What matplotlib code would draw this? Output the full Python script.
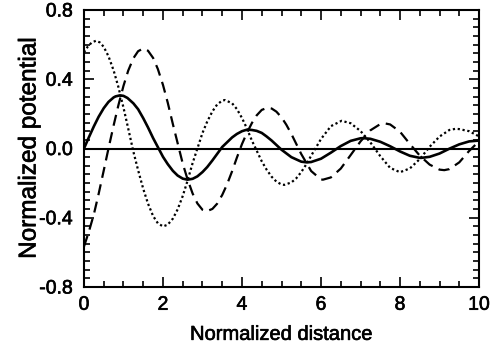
import matplotlib
matplotlib.use("Agg")
import matplotlib.pyplot as plt
import matplotlib.patheffects as pe
from matplotlib.ticker import MultipleLocator, FixedLocator

plt.rcParams['font.family'] = ['Liberation Sans', 'DejaVu Sans']

# solid curve
x_solid = [0, 0.12, 0.25, 0.37, 0.5, 0.62, 0.75, 0.8, 0.91, 1.0, 1.1, 1.25, 1.37, 1.5, 1.62, 1.75,
           2.0, 2.12, 2.25, 2.37, 2.5, 2.62, 2.75, 2.87, 3.0, 3.12, 3.25, 3.5, 3.75, 3.87, 4.0,
           4.1, 4.2, 4.25, 4.37, 4.5, 4.62, 4.75, 5.0, 5.25, 5.5, 5.64, 5.75, 6.0,
           6.25, 6.5, 6.75, 7.0, 7.07, 7.25, 7.5, 7.75, 8.0, 8.25, 8.5, 8.54, 8.75, 9.0,
           9.25, 9.5, 9.75, 10.0]
y_solid = [0.0, 0.063, 0.128, 0.183, 0.233, 0.269, 0.295, 0.301, 0.307, 0.304, 0.292, 0.261, 0.227, 0.175, 0.122, 0.06,
           -0.048, -0.09, -0.129, -0.156, -0.174, -0.18, -0.175, -0.161, -0.136, -0.107, -0.069, 0.009, 0.064, 0.084, 0.100,
           0.107, 0.108, 0.107, 0.102, 0.090, 0.070, 0.046, -0.007, -0.050, -0.076, -0.08, -0.078, -0.059,
           -0.024, 0.014, 0.044, 0.059, 0.06, 0.056, 0.039, 0.013, -0.017, -0.042, -0.054, -0.054, -0.048, -0.029,
           -0.001, 0.024, 0.041, 0.046]

# dashed curve
x_dash = [0, 0.12, 0.25, 0.37, 0.5, 0.62, 0.75, 0.87, 1.0, 1.12, 1.25, 1.37, 1.5, 1.62, 1.75, 1.87,
          2.0, 2.12, 2.25, 2.5, 2.62, 2.75, 2.87, 3.0, 3.1, 3.25, 3.37, 3.5, 3.62, 3.75, 3.87,
          4.0, 4.12, 4.25, 4.37, 4.5, 4.65, 4.75, 4.87, 5.0, 5.12, 5.25, 5.5, 5.75, 6.0, 6.05,
          6.25, 6.5, 6.75, 7.0, 7.25, 7.5, 7.62, 7.75, 8.0, 8.25, 8.5, 8.75, 9.0, 9.12, 9.25,
          9.5, 9.75, 10.0]
y_dash = [-0.566, -0.483, -0.38, -0.263, -0.127, 0.0, 0.133, 0.249, 0.362, 0.45, 0.521, 0.562, 0.578, 0.565, 0.523, 0.459,
          0.367, 0.265, 0.141, -0.087, -0.177, -0.26, -0.317, -0.354, -0.363, -0.349, -0.319, -0.268, -0.208, -0.131, -0.053,
          0.026, 0.088, 0.147, 0.191, 0.223, 0.236, 0.231, 0.213, 0.18, 0.138, 0.084, -0.032, -0.13, -0.179, -0.18,
          -0.167, -0.116, -0.038, 0.041, 0.105, 0.141, 0.145, 0.139, 0.097, 0.026, -0.041, -0.093, -0.122, -0.125, -0.119,
          -0.08, -0.014, 0.042]

# dotted curve
x_dot = [0, 0.1, 0.2, 0.3, 0.4, 0.5, 0.62, 0.75, 0.87, 1.0, 1.12, 1.25, 1.37, 1.5, 1.62, 1.75,
         1.87, 2.0, 2.12, 2.25, 2.37, 2.5, 2.62, 2.75, 3.0, 3.12, 3.25, 3.37, 3.5, 3.57, 3.75,
         3.87, 4.0, 4.12, 4.25, 4.5, 4.62, 4.75, 4.87, 5.0, 5.07, 5.25, 5.37, 5.5, 5.62, 5.75,
         6.0, 6.25, 6.52, 6.75, 7.0, 7.25, 7.5, 7.75, 8.0, 8.25, 8.5, 8.75, 9.0, 9.25, 9.41,
         9.5, 9.75, 10.0]
y_dot = [0.556, 0.59, 0.613, 0.622, 0.613, 0.587, 0.533, 0.451, 0.356, 0.236, 0.115, -0.018, -0.125, -0.233, -0.318, -0.39,
         -0.432, -0.45, -0.44, -0.405, -0.352, -0.274, -0.187, -0.084, 0.09, 0.156, 0.214, 0.254, 0.277, 0.28, 0.261,
         0.228, 0.176, 0.118, 0.046, -0.074, -0.121, -0.163, -0.191, -0.208, -0.21, -0.196, -0.173, -0.136, -0.094, -0.042,
         0.055, 0.129, 0.16, 0.146, 0.101, 0.035, -0.044, -0.112, -0.137, -0.115, -0.061, 0.01, 0.069, 0.107, 0.114,
         0.112, 0.10, 0.07]

fig = plt.figure(figsize=(4.9, 3.51), dpi=100)
ax = fig.add_axes([0.1714, 0.1823, 0.8062, 0.7892])

ax.axhline(0, color='black', lw=1.5)
ax.plot(x_solid, y_solid, color='black', lw=1.9, ls='-')
ax.plot(x_dash, y_dash, color='black', lw=1.6, ls=(0, (5, 3)))
ax.plot(x_dot, y_dot, color='black', lw=1.6, ls=(0, (1, 1.2)))

ax.set_xlim(0, 10)
ax.set_ylim(-0.8, 0.8)
ax.xaxis.set_major_locator(MultipleLocator(2))
ax.xaxis.set_minor_locator(MultipleLocator(0.5))
ax.set_yticks([-0.8, -0.4, 0.0, 0.4, 0.8])
ax.set_yticklabels(['-0.8', '-0.4', '0.0', '0.4', '0.8'])
ax.yaxis.set_minor_locator(FixedLocator([i * 0.05 - 0.8 for i in range(33)]))

ax.tick_params(which='both', direction='in', top=True, right=True, width=1.2, labelsize=14)
ax.tick_params(which='major', length=7)
ax.tick_params(which='minor', length=4)
ax.tick_params(axis='x', which='major', pad=7)
ax.tick_params(axis='y', which='major', pad=8)
for s in ax.spines.values():
    s.set_linewidth(1.5)

ax.set_xlabel('Normalized distance', fontsize=14.5, labelpad=8)
ax.set_ylabel('Normalized potential', fontsize=17.5, labelpad=-1)

heavy = [pe.withStroke(linewidth=0.45, foreground='black')]
for t in ax.get_xticklabels() + ax.get_yticklabels() + [ax.xaxis.label, ax.yaxis.label]:
    t.set_path_effects(heavy)

fig.savefig('out.png', dpi=100)
